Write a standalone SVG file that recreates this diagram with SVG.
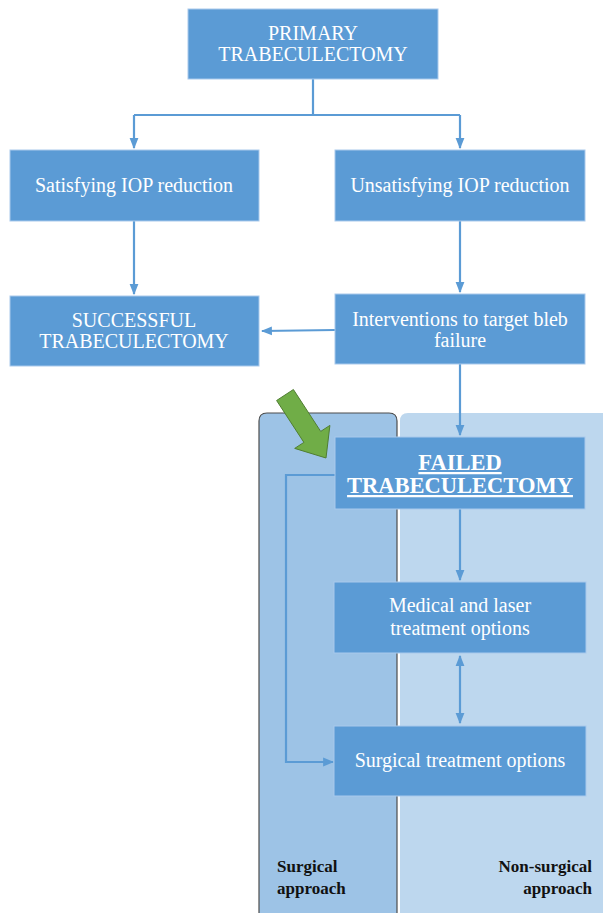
<svg xmlns="http://www.w3.org/2000/svg" width="603" height="913" viewBox="0 0 603 913">
<defs>
<style>
.box{fill:#5B9BD5;stroke:#A9C9EC;stroke-width:1}
.t{font-family:"Liberation Serif","Times New Roman",serif;font-size:20px;fill:#FFFFFF;text-anchor:middle}
.tb{font-family:"Liberation Serif","Times New Roman",serif;font-size:22.5px;font-weight:bold;fill:#FFFFFF;text-anchor:middle;text-decoration:underline}
.lbl{font-family:"Liberation Serif","Times New Roman",serif;font-size:17px;font-weight:bold;fill:#111111}
.c{fill:none;stroke:#5B9BD5;stroke-width:2.2}
</style>
<marker id="ah" viewBox="0 0 10 10" refX="9" refY="5" markerWidth="5" markerHeight="5" orient="auto-start-reverse" markerUnits="strokeWidth">
<path d="M0,1 L10,5 L0,9 z" fill="#5B9BD5"/>
</marker>
</defs>
<rect width="603" height="913" fill="#FFFFFF"/>
<g id="columns">
<path id="col-nonsurgical" d="M400,913 V421 Q400,413 408,413 H603 V913 Z" fill="#BDD7EE"/>
<path id="col-surgical" d="M259,913 V421 Q259,413 267,413 H389 Q397,413 397,421 V913" fill="#9DC3E6" stroke="#4D4D4D" stroke-width="1.2"/>
</g>
<g id="connectors">
<path class="c" d="M313,79 V115 M134,115 H460"/>
<path class="c" d="M134,115 V148" marker-end="url(#ah)"/>
<path class="c" d="M460,115 V148" marker-end="url(#ah)"/>
<path class="c" d="M134,221 V294" marker-end="url(#ah)"/>
<path class="c" d="M460,221 V292" marker-end="url(#ah)"/>
<path class="c" d="M335,330 L262,331" marker-end="url(#ah)"/>
<path class="c" d="M460,364 V435" marker-end="url(#ah)"/>
<path class="c" d="M460,509 V580" marker-end="url(#ah)"/>
<path class="c" d="M460,656 V723" marker-start="url(#ah)" marker-end="url(#ah)"/>
<path class="c" d="M335,475 H286 V762 H333" marker-end="url(#ah)"/>
</g>
<g id="node-primary">
<rect class="box" x="188" y="9" width="250" height="70"/>
<text class="t" x="313" y="40">PRIMARY</text>
<text class="t" x="313" y="61">TRABECULECTOMY</text>
</g>
<g id="node-satisfying">
<rect class="box" x="10" y="150" width="249" height="71"/>
<text class="t" x="134" y="192">Satisfying IOP reduction</text>
</g>
<g id="node-unsatisfying">
<rect class="box" x="335" y="150" width="250" height="71"/>
<text class="t" x="460" y="192">Unsatisfying IOP reduction</text>
</g>
<g id="node-successful">
<rect class="box" x="10" y="296" width="249" height="70"/>
<text class="t" x="134" y="327">SUCCESSFUL</text>
<text class="t" x="134" y="348">TRABECULECTOMY</text>
</g>
<g id="node-interventions">
<rect class="box" x="335" y="294" width="250" height="70"/>
<text class="t" x="460" y="326">Interventions to target bleb</text>
<text class="t" x="460" y="347">failure</text>
</g>
<g id="node-failed">
<rect class="box" x="335" y="437" width="250" height="72" stroke="#DDEBF7"/>
<text class="tb" x="460" y="470">FAILED</text>
<text class="tb" x="460" y="493">TRABECULECTOMY</text>
</g>
<g id="node-medical">
<rect class="box" x="334" y="582" width="252" height="71" stroke="#DDEBF7"/>
<text class="t" x="460" y="612">Medical and laser</text>
<text class="t" x="460" y="635">treatment options</text>
</g>
<g id="node-surgical-options">
<rect class="box" x="334" y="726" width="252" height="70" stroke="#DDEBF7"/>
<text class="t" x="460" y="767">Surgical treatment options</text>
</g>
<g id="green-arrow">
<polygon points="293.4,389.5 320.7,431.4 329.9,425.4 326,458 294.7,448.4 303.9,442.4 276.6,400.5" fill="#70AD47" stroke="#507E32" stroke-width="1"/>
</g>
<g id="labels">
<text class="lbl" x="277" y="872">Surgical</text>
<text class="lbl" x="277" y="894">approach</text>
<text class="lbl" x="592" y="872" text-anchor="end">Non-surgical</text>
<text class="lbl" x="592" y="894" text-anchor="end">approach</text>
</g>
</svg>
